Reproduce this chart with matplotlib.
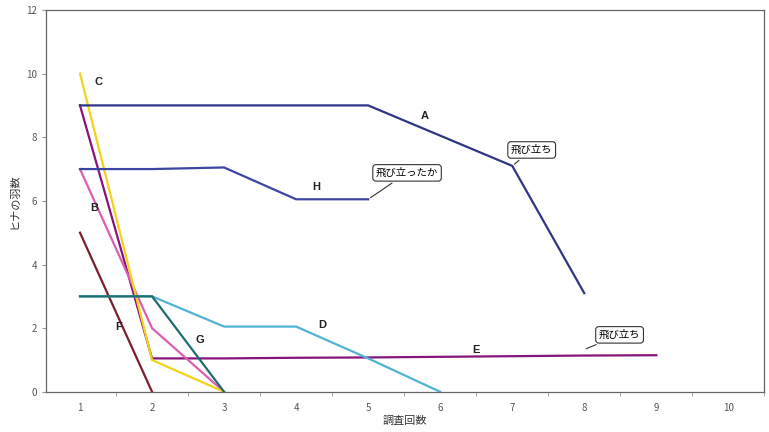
import matplotlib
matplotlib.use("Agg")
import matplotlib.pyplot as plt

plt.rcParams['font.family'] = ['Noto Sans CJK JP', 'DejaVu Sans']

# survey round -> number of chicks, one list per nest
x_A = [1, 2, 3, 4, 5, 6, 7, 8]
y_A = [9, 9, 9, 9, 9, 8.05, 7.1, 3.1]
x_H = [1, 2, 3, 4, 5]
y_H = [7, 7, 7.05, 6.05, 6.05]
x_C = [1, 2, 3]
y_C = [10, 1, 0]
x_E = [1, 2, 3, 4, 5, 6, 7, 8, 9]
y_E = [9, 1.05, 1.05, 1.07, 1.08, 1.1, 1.12, 1.14, 1.15]
x_B = [1, 2, 3]
y_B = [7, 2, 0]
x_F = [1, 2]
y_F = [5, 0]
x_G = [1, 2, 3]
y_G = [3, 3, 0]
x_D = [1, 2, 3, 4, 5, 6]
y_D = [3, 3, 2.05, 2.05, 1.05, 0]

x_ticks = [1, 2, 3, 4, 5, 6, 7, 8, 9, 10]
y_ticks = [0, 2, 4, 6, 8, 10, 12]

series = [
    (x_E, y_E, '#86137e'),
    (x_B, y_B, '#d95fb0'),
    (x_C, y_C, '#f3d21a'),
    (x_F, y_F, '#7a1f2e'),
    (x_D, y_D, '#4fb3d3'),
    (x_G, y_G, '#1d6e6e'),
    (x_H, y_H, '#3b45a3'),
    (x_A, y_A, '#2f3585'),
]

fig = plt.figure(figsize=(7.69, 4.32), dpi=100)
ax = fig.add_axes([0.06, 0.093, 0.934, 0.884])

for xs, ys, c in series:
    ax.plot(xs, ys, color=c, lw=1.6, solid_joinstyle='miter')

labels = [('A', 5.78, 8.67), ('C', 1.25, 9.74), ('B', 1.2, 5.78),
          ('H', 4.28, 6.44), ('D', 4.37, 2.1), ('G', 2.66, 1.63),
          ('F', 1.53, 2.04), ('E', 6.5, 1.32)]
for t, lx, ly in labels:
    ax.text(lx, ly, t, fontsize=8, fontweight='bold', color='#222222',
            family=['Liberation Sans', 'DejaVu Sans'], ha='center', va='center')

box = dict(boxstyle='round,pad=0.3', fc='white', ec='#333333', lw=0.8)
arrow = dict(arrowstyle='-', color='#333333', lw=0.8)
ax.annotate('飛び立ち', xy=(7, 7.1), xytext=(7.27, 7.6), fontsize=7.5,
            ha='center', va='center', bbox=box, arrowprops=arrow)
ax.annotate('飛び立ったか', xy=(5.0, 6.05), xytext=(5.54, 6.88), fontsize=7.5,
            ha='center', va='center', bbox=box, arrowprops=arrow)
ax.annotate('飛び立ち', xy=(7.99, 1.32), xytext=(8.49, 1.79), fontsize=7.5,
            ha='center', va='center', bbox=box, arrowprops=arrow)

ax.set_xlim(0.53, 10.47)
ax.set_ylim(0, 12)
ax.set_xticks(x_ticks)
ax.set_xticks([t + 0.5 for t in x_ticks], minor=True)
ax.set_yticks(y_ticks)
ax.tick_params(axis='x', which='major', length=0, pad=8, labelsize=7, colors='#555555')
ax.tick_params(axis='x', which='minor', length=3, color='#999999')
ax.tick_params(axis='y', length=3, labelsize=7, colors='#555555', color='#999999')
for s in ax.spines.values():
    s.set_color('#666666')
    s.set_linewidth(0.9)

ax.set_xlabel('調査回数', fontsize=8, color='#333333', labelpad=2)
ax.set_ylabel('ヒナの羽数', fontsize=8, color='#333333', labelpad=5)

fig.savefig('out.png', dpi=100)
